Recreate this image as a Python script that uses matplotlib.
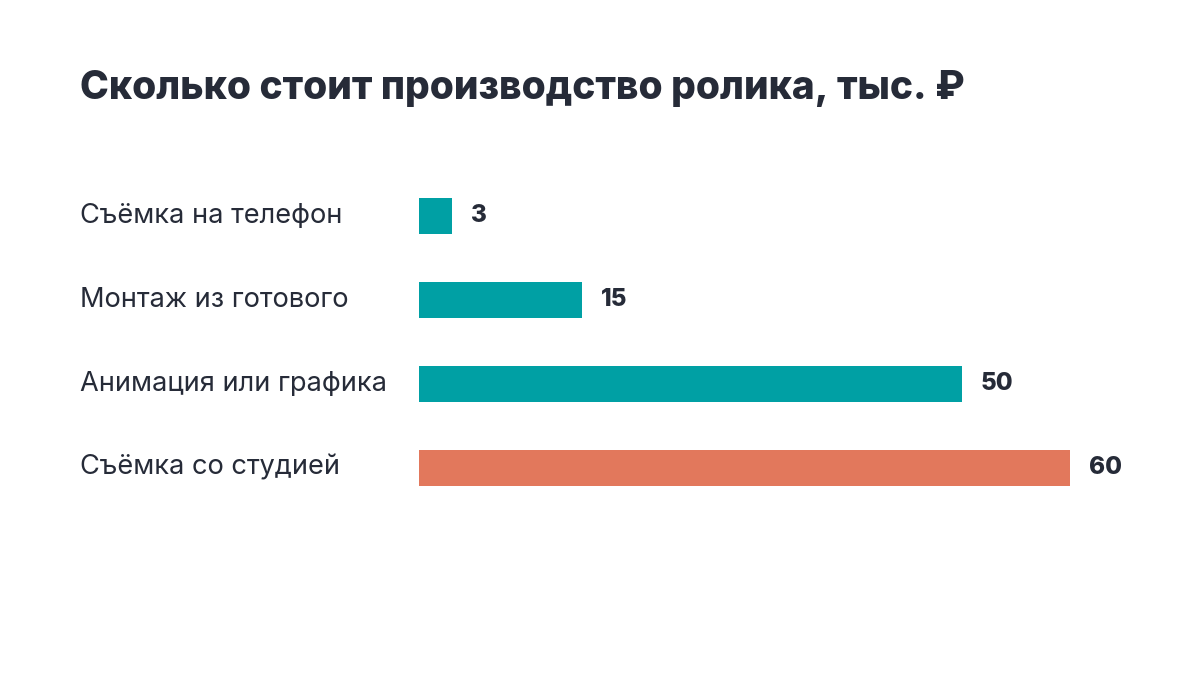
import matplotlib
matplotlib.use("Agg")
import matplotlib.pyplot as plt
from matplotlib.transforms import blended_transform_factory

categories = ["Съёмка на телефон", "Монтаж из готового", "Анимация или графика", "Съёмка со студией"]
values = [3, 15, 50, 60]
colors = ["#00A0A4", "#00A0A4", "#00A0A4", "#E2785C"]
title = "Сколько стоит производство ролика, тыс. ₽"

plt.rcParams['font.family'] = ['Inter', 'DejaVu Sans']
text_color = "#262B38"

W, H = 1200, 675
fig = plt.figure(figsize=(12, 6.75), dpi=100)
fig.patch.set_facecolor("white")

ax = fig.add_axes([419 / W, 1 - 510 / H, 651 / W, 336 / H])
ypos = list(range(len(categories)))
ax.barh(ypos, values, height=36 / 84, color=colors)
ax.set_xlim(0, 60)
ax.set_ylim(len(categories) - 0.5, -0.5)
ax.axis("off")

trans = blended_transform_factory(fig.transFigure, ax.transData)
for y, cat, v in zip(ypos, categories, values):
    ax.text(80 / W, y, cat, transform=trans, ha="left", va="center",
            fontsize=19.6, color=text_color)
    ax.annotate(str(v), xy=(v, y), xytext=(19, 0), textcoords="offset pixels",
                ha="left", va="center", fontsize=17.5, fontweight=800,
                color=text_color)

fig.text(80 / W, 1 - 99 / H, title, ha="left", va="baseline",
         fontsize=28, fontweight=800, color=text_color)

fig.savefig("out.png", dpi=100)
